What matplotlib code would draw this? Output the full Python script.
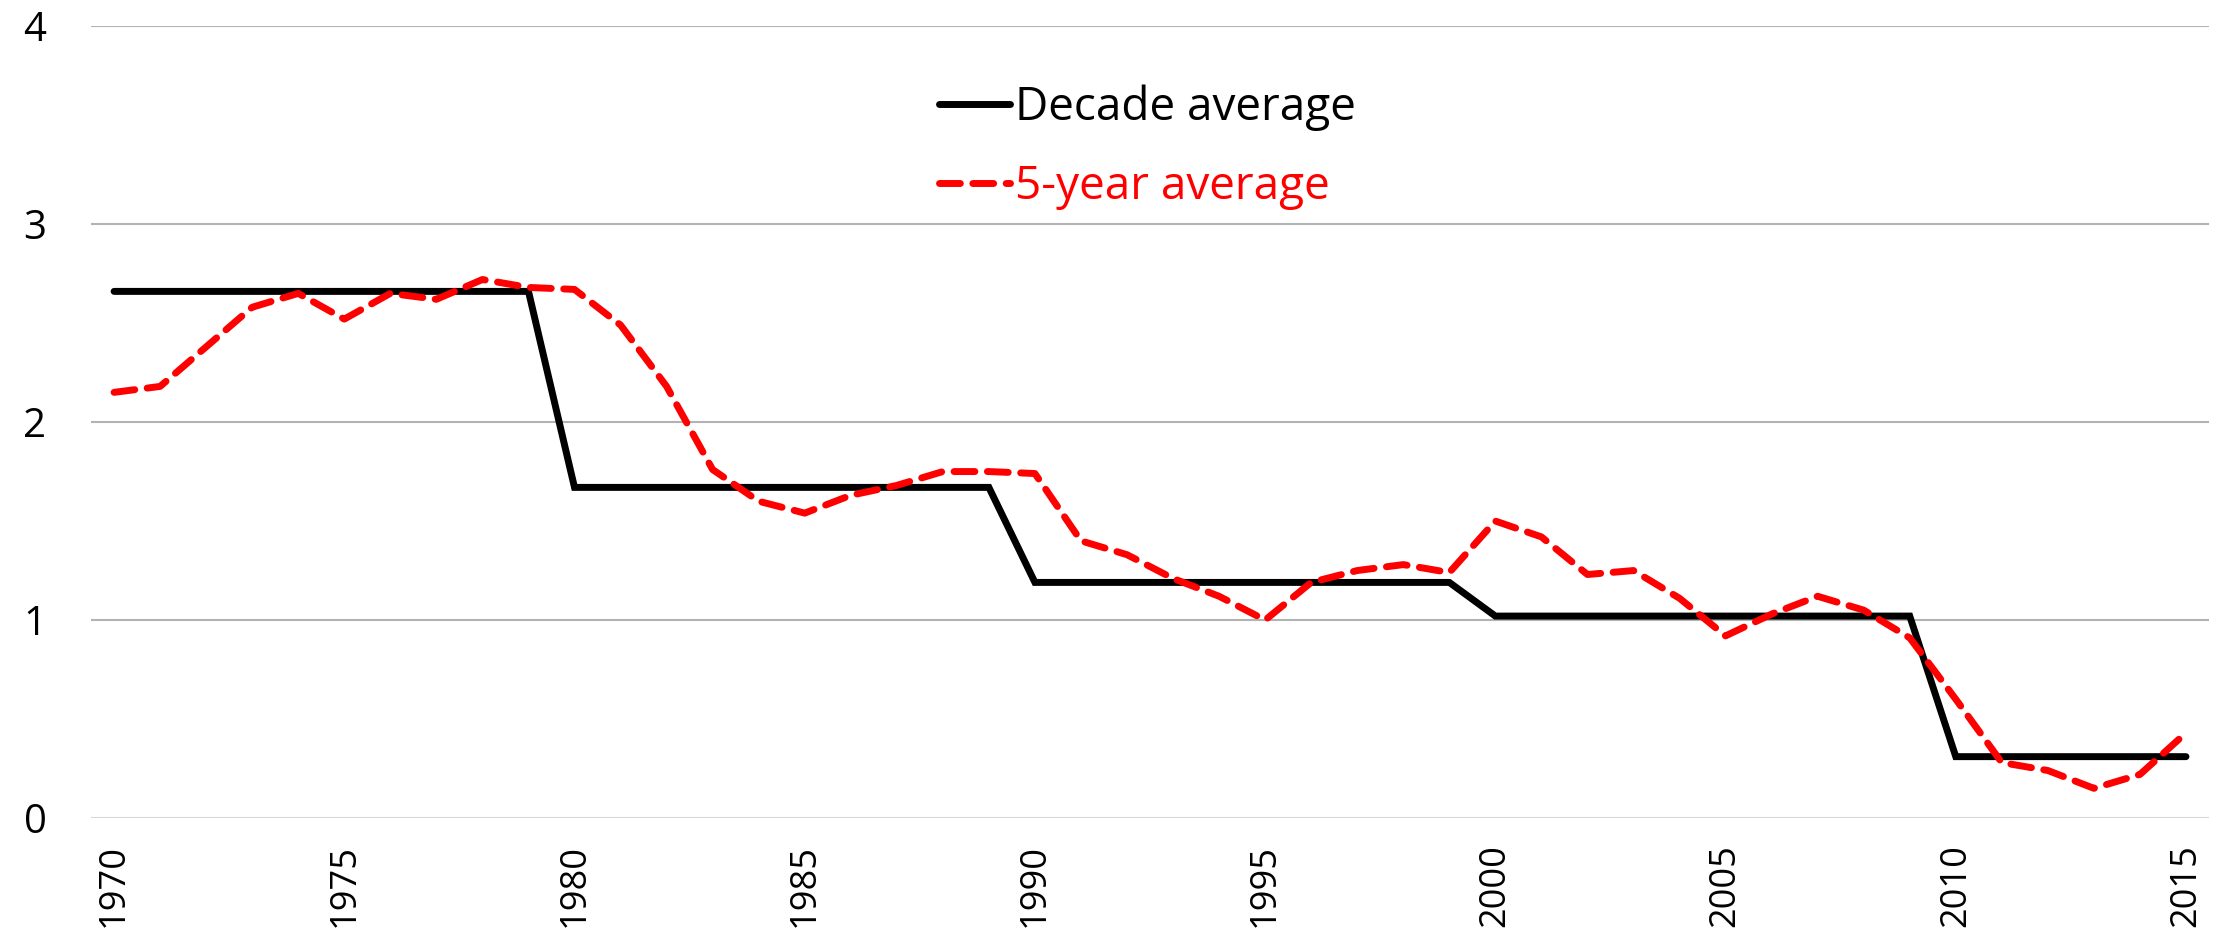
import numpy as np
import matplotlib.pyplot as plt

plt.rcParams['font.family'] = ['Open Sans', 'DejaVu Sans']

years = np.arange(1970, 2016)

decade_avg = [2.66] * 10 + [1.67] * 10 + [1.19] * 10 + [1.02] * 10 + [0.31] * 6

five_year_avg = [2.15, 2.18, 2.38, 2.58, 2.65, 2.52, 2.65, 2.62, 2.72, 2.68,
                 2.67, 2.49, 2.18, 1.76, 1.60, 1.54, 1.63, 1.68, 1.75, 1.75,
                 1.74, 1.40, 1.33, 1.21, 1.12, 1.00, 1.19, 1.25, 1.28, 1.24,
                 1.50, 1.42, 1.23, 1.25, 1.11, 0.92, 1.03, 1.12, 1.05, 0.91,
                 0.60, 0.28, 0.24, 0.15, 0.22, 0.43]

xtick_years = np.arange(1970, 2016, 5)

fig = plt.figure(figsize=(22.21, 9.32), dpi=100)
ax = fig.add_axes([0.041, 0.1223, 0.9536, 0.8497])

ax.plot(years, decade_avg, color='black', lw=5, solid_capstyle='round',
        solid_joinstyle='miter', label='Decade average', zorder=3)
ax.plot(years, five_year_avg, color='#ff0000', lw=5, ls=(0, (3.0, 1.8)),
        dash_capstyle='round', label='5-year average', zorder=4)

ax.set_xlim(1969.5, 2015.5)
ax.set_ylim(0, 4)
ax.set_yticks([0, 1, 2, 3, 4])
ax.set_xticks(xtick_years)
ax.set_xticklabels([str(y) for y in xtick_years], rotation=90, va='top')
ax.tick_params(axis='both', length=0)
ax.tick_params(axis='y', pad=32, labelsize=29)
ax.tick_params(axis='x', pad=19, labelsize=26)

for v in [1, 2, 3, 4]:
    ax.axhline(v, color='#b3b3b3', lw=1.5, zorder=1)
ax.axhline(0, color='#d9d9d9', lw=1.5, zorder=1)

for s in ax.spines.values():
    s.set_visible(False)

leg = ax.legend(loc='upper left', bbox_to_anchor=(0.381, 0.978), frameon=False,
                fontsize=33, handlelength=1.55, handletextpad=0.1,
                labelspacing=0.72)
for txt, line in zip(leg.get_texts(), leg.get_lines()):
    txt.set_color(line.get_color())

fig.savefig('out.png', dpi=100)
